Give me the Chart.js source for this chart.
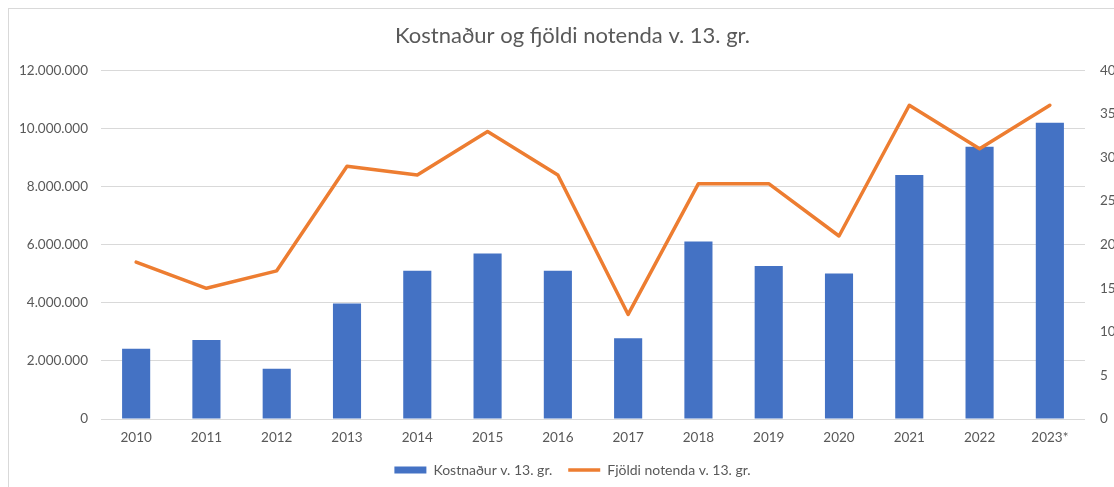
<!DOCTYPE html>
<html><head><meta charset="utf-8">
<script src="https://cdn.jsdelivr.net/npm/chart.js@4"></script>
<style>
html,body{margin:0;padding:0;background:#fff;overflow:hidden;}
#wrap{position:relative;width:1114px;height:487px;overflow:hidden;}
#frame{position:absolute;left:8px;top:8px;width:1200px;height:600px;border:1px solid #D9D9D9;box-sizing:border-box;pointer-events:none}
canvas{position:absolute;left:0;top:0}
</style></head>
<body><div id="wrap"><div id="frame"></div><canvas id="c" width="1145" height="487"></canvas></div>
<script>
const categories = ['2010','2011','2012','2013','2014','2015','2016','2017','2018','2019','2020','2021','2022','2023*'];
const costValues = [2420000, 2720000, 1730000, 3980000, 5100000, 5700000, 5100000, 2780000, 6110000, 5270000, 5010000, 8400000, 9370000, 10200000];
const userValues = [18, 15, 17, 29, 28, 33, 28, 12, 27, 27, 21, 36, 31, 36];
const costLabel = 'Kostnaður v. 13. gr.';
const userLabel = 'Fjöldi notenda v. 13. gr.';
const titleText = 'Kostnaður og fjöldi notenda v. 13. gr.';
const leftMax = 12000000, leftStep = 2000000;
const rightMax = 40, rightStep = 5;

const FONT = 'Lato, "Open Sans", sans-serif';
const TXT = '#595959';
const BLUE = '#4472C4', ORANGE = '#ED7D31';

new Chart(document.getElementById('c'), {
  data: {
    labels: categories,
    datasets: [
      { type: 'bar', label: costLabel, data: costValues, backgroundColor: BLUE, borderWidth: 0,
        yAxisID: 'y', order: 2, categoryPercentage: 1.0, barPercentage: 0.4 },
      { type: 'line', label: userLabel, data: userValues, borderColor: ORANGE, backgroundColor: ORANGE,
        borderWidth: 3.5, pointRadius: 0, tension: 0, yAxisID: 'y1', order: 1, borderCapStyle: 'round', borderJoinStyle: 'round' }
    ]
  },
  options: {
    responsive: false,
    animation: false,
    layout: { padding: { left: 0, right: 0, top: 0, bottom: 0 } },
    plugins: {
      tooltip: { enabled: false },
      title: { display: true, text: titleText, color: TXT, font: { family: FONT, size: 22, weight: 'normal' },
        padding: { top: 23, bottom: 21 } },
      legend: {
        position: 'bottom',
        labels: {
          color: TXT, font: { family: FONT, size: 14 }, usePointStyle: true, pointStyleWidth: 32, boxHeight: 7,
          padding: 16,
          generateLabels: (chart) => [
            { text: costLabel, fillStyle: BLUE, strokeStyle: BLUE, lineWidth: 0, pointStyle: 'rect', datasetIndex: 0, fontColor: TXT },
            { text: userLabel, fillStyle: ORANGE, strokeStyle: ORANGE, lineWidth: 3.5, pointStyle: 'line', datasetIndex: 1, fontColor: TXT }
          ]
        }
      }
    },
    scales: {
      x: {
        grid: { display: false }, border: { display: false },
        ticks: { color: TXT, font: { family: FONT, size: 13.5 }, padding: 3, maxRotation: 0 },
        afterFit: (s) => { s.height = 28; }
      },
      y: {
        position: 'left', min: 0, max: leftMax,
        grid: { color: '#D9D9D9', lineWidth: 1, drawTicks: false }, border: { display: false },
        ticks: { stepSize: leftStep, color: TXT, font: { family: FONT, size: 13.5 }, padding: 13,
          callback: (v) => v.toLocaleString('de-DE') },
        afterFit: (s) => { s.width = 101; }
      },
      y1: {
        position: 'right', min: 0, max: rightMax,
        grid: { display: false, drawTicks: false }, border: { display: false },
        ticks: { stepSize: rightStep, color: TXT, font: { family: FONT, size: 13.5 }, padding: 15 },
        afterFit: (s) => { s.width = 60; }
      }
    }
  }
});
</script>
</body></html>
